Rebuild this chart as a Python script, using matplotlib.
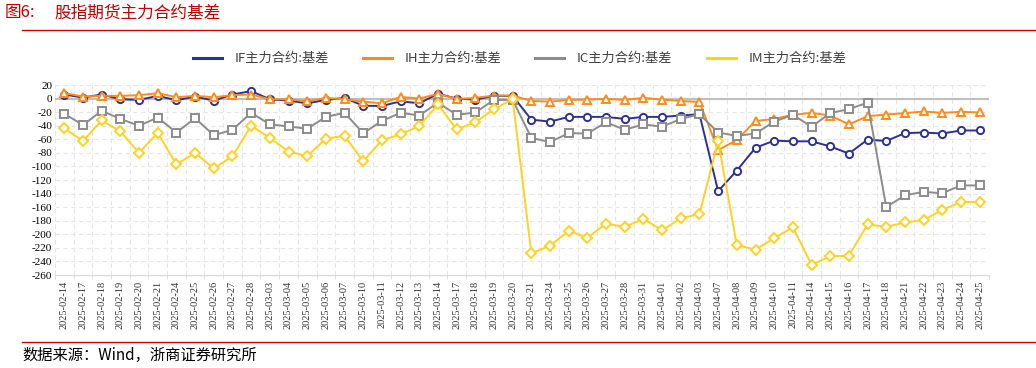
import matplotlib
matplotlib.use("Agg")
import matplotlib.pyplot as plt
import numpy as np

dates = ["2025-02-14","2025-02-17","2025-02-18","2025-02-19","2025-02-20","2025-02-21",
         "2025-02-24","2025-02-25","2025-02-26","2025-02-27","2025-02-28",
         "2025-03-03","2025-03-04","2025-03-05","2025-03-06","2025-03-07",
         "2025-03-10","2025-03-11","2025-03-12","2025-03-13","2025-03-14",
         "2025-03-17","2025-03-18","2025-03-19","2025-03-20","2025-03-21",
         "2025-03-24","2025-03-25","2025-03-26","2025-03-27","2025-03-28","2025-03-31",
         "2025-04-01","2025-04-02","2025-04-03","2025-04-07","2025-04-08","2025-04-09",
         "2025-04-10","2025-04-11","2025-04-14","2025-04-15","2025-04-16","2025-04-17",
         "2025-04-18","2025-04-21","2025-04-22","2025-04-23","2025-04-24","2025-04-25"]

if_basis = [6, 1.5, 6, -1, -2, 4, -2.5, 3, -3, 6, 11, -1, -3, -7, -2, 1,
            -10.5, -11, -4, -7, 7, 0, -1.5, 4, 4, -31, -34, -27, -27, -27,
            -30, -27, -27, -25, -23, -136.5, -106, -72.5, -62, -63, -63, -70.5,
            -81, -60.5, -62.5, -51, -50, -51.5, -47, -47]
ih_basis = [8, 3, 4, 4, 5, 8, 2, 4, 2, 5, 6, -1, -1, -4, 1, -1,
            -4.5, -7, 2.5, 0, 7, -0.5, 1, 4.5, 4.5, -3.5, -4.5, -2, -1.5, -0.5,
            -2, 1, -1.5, -3.5, -5, -76, -61, -33, -30, -24, -21, -25,
            -38, -26, -23.5, -21.5, -19, -21, -19.5, -20.5]
ic_basis = [-22.5, -39, -18, -30, -40, -28, -50, -29, -54, -46, -21, -38, -41, -44.5, -27, -21,
            -51, -33, -21, -25, -6, -24, -20.5, -2, -2, -58, -64, -51, -51.5, -35,
            -46, -38, -41.5, -30, -23, -50, -55, -51.5, -34, -24, -41.5, -21.5,
            -15.5, -6, -160, -142.5, -137.5, -139.5, -128, -128]
im_basis = [-44, -62.5, -32, -48.5, -80, -50.5, -97, -80, -103, -85, -40, -58, -78, -85, -59, -55,
            -92.5, -61.5, -52.5, -40.5, -8.5, -45.5, -35, -15.5, -1, -228, -217, -195, -205, -184.5,
            -189, -177.5, -194, -176.5, -170, -63, -216, -222.5, -206, -189.5, -245, -232.5,
            -231.5, -185.5, -189, -182.5, -179, -164, -152.5, -152.5]

series_names = ["IF主力合约:基差", "IH主力合约:基差", "IC主力合约:基差", "IM主力合约:基差"]
colors = ["#2E3192", "#FF8C1A", "#8C8C8C", "#FFD21F"]
markers = ["o", "^", "s", "D"]
msizes = [5.2, 5.2, 5.2, 4.6]

cjk = ["Noto Sans CJK SC", "DejaVu Sans"]
serif = ["Liberation Serif", "DejaVu Serif"]

W, H = 1036, 368
fig = plt.figure(figsize=(W/100, H/100), dpi=100)
fig.patch.set_facecolor("white")

# Title and header line
fig.text(5/W, 1-13/H, "图6:", color="#C00000", fontsize=12,
         family=cjk, va="center", ha="left")
fig.text(54/W, 1-13/H, "股指期货主力合约基差", color="#C00000", fontsize=12,
         family=cjk, va="center", ha="left")
fig.add_artist(plt.Line2D([22/W, 1.0], [1-30/H, 1-30/H], color="#D00000", lw=1.0))
fig.add_artist(plt.Line2D([22/W, 1.0], [1-342/H, 1-342/H], color="#D00000", lw=1.0))
fig.text(22/W, 1-355/H, "数据来源：Wind，浙商证券研究所", color="black", fontsize=11,
         family=cjk, va="center", ha="left")

ax = fig.add_axes([55/W, 1-275/H, 934/W, 190/H])
x = np.arange(len(dates))
data = [if_basis, ih_basis, ic_basis, im_basis]
for vals, c, m, ms, name in zip(data, colors, markers, msizes, series_names):
    ax.plot(x, vals, color=c, lw=1.4, marker=m, markersize=ms,
            markerfacecolor="white", markeredgecolor=c, markeredgewidth=1.4,
            zorder=3, label=name)

ax.axhline(0, color="#BFBFBF", lw=1.5, zorder=2)
ax.set_xlim(-0.5, len(dates) - 0.5)
ax.set_ylim(-260, 20)
ax.set_yticks(np.arange(-260, 21, 20))
ax.set_yticklabels([str(v) for v in range(-260, 21, 20)], family=serif, fontsize=8)
ax.set_xticks(x)
ax.set_xticklabels(dates, rotation=90, family=serif, fontsize=7.5, color="#333333")
ax.set_xticks(np.arange(-0.5, len(dates), 1), minor=True)
ax.tick_params(axis="x", which="major", length=0, pad=4)
ax.tick_params(axis="x", which="minor", length=3, color="#D9D9D9")
ax.tick_params(axis="y", length=0, pad=2)
ax.grid(True, which="minor", axis="x", color="#E6E6E6", ls=(0, (4, 3)), lw=0.8)
ax.grid(True, which="major", axis="y", color="#E6E6E6", ls=(0, (4, 3)), lw=0.8)
ax.grid(False, which="major", axis="x")
for s in ["top", "right", "left"]:
    ax.spines[s].set_visible(False)
ax.spines["bottom"].set_color("#D9D9D9")
ax.set_axisbelow(True)

# Legend (lines only)
leg_x = [193, 363, 535, 707]
for lx, c, name in zip(leg_x, colors, series_names):
    fig.add_artist(plt.Line2D([lx/W, (lx+29)/W], [1-58/H, 1-58/H], color=c, lw=2.2))
    fig.text((lx+42)/W, 1-58/H, name, color="#404040", fontsize=9.5,
             family=cjk, va="center", ha="left")

fig.savefig("out.png", dpi=100, facecolor="white")
